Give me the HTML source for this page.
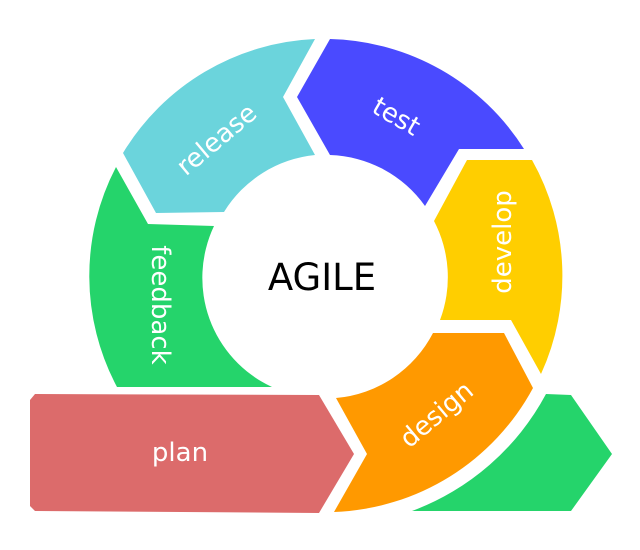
<!DOCTYPE html>
<html><head><meta charset="utf-8"><style>
html,body{margin:0;padding:0;background:#fff;width:640px;height:550px;overflow:hidden}
svg{display:block}
text{font-family:"DejaVu Sans","Liberation Sans",sans-serif;fill:#fff}
</style></head><body>
<svg width="640" height="550" viewBox="0 0 640 550" xmlns="http://www.w3.org/2000/svg">
<!-- release -->
<path d="M123,153 A236,236 0 0 1 315,39 L283,97 L315,155 A121,121 0 0 0 224,212 L156,213 Z" fill="#6BD4DC"/>
<!-- test -->
<path d="M330,39 A236,236 0 0 1 524,149 L459,149 L425,206 A121,121 0 0 0 330,155 L297,97 Z" fill="#4A4AFF"/>
<!-- develop -->
<path d="M467,160 L532,160 A236,236 0 0 1 541,374 L511,320 L440,320 A121,121 0 0 0 434,221 Z" fill="#FFCE00"/>
<!-- design -->
<path d="M433,333 L504,333 L533,388 A236,236 0 0 1 334,512 L367,454 L336,398 A121,121 0 0 0 433,333 Z" fill="#FF9900"/>
<!-- green bottom right -->
<path d="M546,394 L571,395 L612,454 L571,511 L412,511 A251,251 0 0 0 546,394 Z" fill="#25D46B"/>
<!-- feedback -->
<path d="M116,167 L148,224 L214,226 A121,121 0 0 0 272,387 L117,387 A236,236 0 0 1 116,167 Z" fill="#25D46B"/>
<!-- plan -->
<path d="M35,394 L319,395 L354,454 L319,513 L35,511 L30,506 L30,400 Z" fill="#DC6B6B"/>
<text x="322" y="290" font-size="37" text-anchor="middle" style="fill:#000">AGILE</text>
<text x="180" y="461" font-size="26" text-anchor="middle">plan</text>
<text transform="translate(217,140) rotate(-40)" font-size="26" text-anchor="middle" dy="8">release</text>
<text transform="translate(396,117) rotate(30)" font-size="26" text-anchor="middle" dy="8">test</text>
<text transform="translate(503,242) rotate(-90)" font-size="26" text-anchor="middle" dy="8">develop</text>
<text transform="translate(160,305) rotate(90)" font-size="26" text-anchor="middle" dy="8">feedback</text>
<text transform="translate(437,415) rotate(-40)" font-size="26" text-anchor="middle" dy="8">design</text>
</svg>
</body></html>
